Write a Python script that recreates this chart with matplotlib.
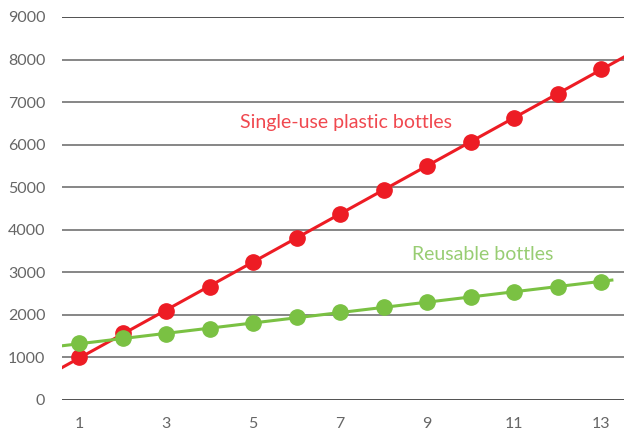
import numpy as np
import matplotlib.pyplot as plt

# bottles per year, single-use vs reusable
years = np.arange(1, 14)
single_use = [1000, 1580, 2100, 2660, 3240, 3810, 4370, 4930, 5500, 6060, 6630, 7200, 7780]
reusable = [1340, 1450, 1540, 1660, 1810, 1940, 2070, 2190, 2310, 2420, 2540, 2660, 2780]
x_ticks = [1, 3, 5, 7, 9, 11, 13]
y_ticks = list(range(0, 9001, 1000))

RED = '#ED1C24'
GREEN = '#7AC143'

plt.rcParams['font.family'] = ['Lato', 'DejaVu Sans']

fig = plt.figure(figsize=(6.28, 4.38), dpi=100)
ax = fig.add_axes([0.0987, 0.0868, 0.895, 0.8744])

xmin, xmax = 0.60, 13.53
ax.set_xlim(xmin, xmax)
ax.set_ylim(0, 9000)

# horizontal grid lines
for v in y_ticks:
    c = '#222222' if v in (0, 9000) else '#666666'
    ax.axhline(v, color=c, lw=1.1, zorder=1)

# straight trend lines through each series
k, b = np.polyfit(years, single_use, 1)
xr = np.array([xmin, xmax])
ax.plot(xr, k * xr + b, color=RED, lw=2.2, zorder=2)
k2, b2 = np.polyfit(years, reusable, 1)
xg = np.array([xmin, 13.25])
ax.plot(xg, k2 * xg + b2, color=GREEN, lw=2.2, zorder=2)

ax.plot(years, single_use, 'o', color=RED, ms=11, zorder=3)
ax.plot(years, reusable, 'o', color=GREEN, ms=11, zorder=4)

ax.text(7.14, 6510, 'Single-use plastic bottles', color='#F0484F', fontsize=14,
        ha='center', va='center')
ax.text(10.27, 3430, 'Reusable bottles', color='#98CD73', fontsize=14,
        ha='center', va='center')

ax.set_xticks(x_ticks)
ax.set_yticks(y_ticks)
ax.tick_params(length=0, labelsize=11.5, labelcolor='#666666', pad=12)
for s in ax.spines.values():
    s.set_visible(False)

fig.savefig('out.png', dpi=100)
